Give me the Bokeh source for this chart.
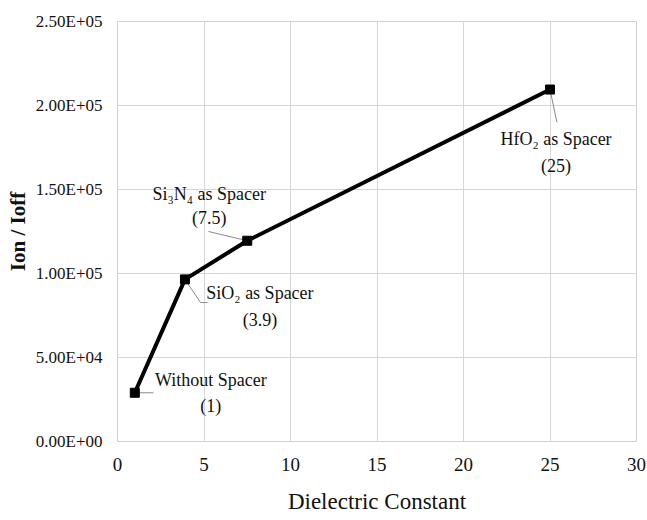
from bokeh.plotting import figure
from bokeh.models import FixedTicker, ColumnDataSource, Range1d
from bokeh.core.properties import value
from bokeh.embed import file_html
from bokeh.resources import INLINE

# Data
dielectric = [1, 3.9, 7.5, 25]
ion_ioff = [29000, 96500, 119500, 209500]
label_line1 = ["Without Spacer", "SiO\u2082 as Spacer", "Si\u2083N\u2084 as Spacer", "HfO\u2082 as Spacer"]
label_line2 = ["(1)", "(3.9)", "(7.5)", "(25)"]
y_ticks = [0, 50000, 100000, 150000, 200000, 250000]
y_tick_labels = ["0.00E+00", "5.00E+04", "1.00E+05", "1.50E+05", "2.00E+05", "2.50E+05"]
x_ticks = [0, 5, 10, 15, 20, 25, 30]

# leader line end points (annotation anchors, data units)
leader_xs = [[1, 2.08], [3.9, 4.8, 5.2], [7.5, 5.26], [25, 25.4]]
leader_ys = [[29000, 29000], [96500, 82700, 82700], [119500, 125000], [209500, 190000]]

# label pixel offsets relative to the points
off_x = [76, 75, -38, 6]
off_y1 = [-13, 14, -47, 49]
off_y2 = [13, 41, -23, 76]

FONT = "Liberation Serif"
TXT = "#111111"

p = figure(width=647, height=520, output_backend="svg", toolbar_location=None,
           x_range=Range1d(0, 30), y_range=Range1d(0, 250000),
           min_border_left=117, min_border_right=11, min_border_top=21, min_border_bottom=79)

p.outline_line_color = "#d0d0d0"
p.background_fill_color = "white"
p.border_fill_color = "white"

for ax in (p.xaxis[0], p.yaxis[0]):
    ax.axis_line_color = None
    ax.major_tick_line_color = None
    ax.minor_tick_line_color = None
    ax.major_tick_out = 0
    ax.major_tick_in = 0
    ax.minor_tick_out = 0
    ax.minor_tick_in = 0
    ax.major_label_text_font = FONT
    ax.major_label_text_color = TXT
    ax.axis_label_text_font = FONT
    ax.axis_label_text_color = TXT
    ax.axis_label_text_font_style = "normal"

p.xaxis.ticker = FixedTicker(ticks=x_ticks)
p.yaxis.ticker = FixedTicker(ticks=y_ticks)
p.yaxis.major_label_overrides = {t: l for t, l in zip(y_ticks, y_tick_labels)}
p.xaxis.major_label_text_font_size = "19px"
p.yaxis.major_label_text_font_size = "17px"
p.xaxis.major_label_standoff = 16
p.yaxis.major_label_standoff = 15
p.xaxis.axis_label = "Dielectric Constant"
p.xaxis.axis_label_text_font_size = "23px"
p.xaxis.axis_label_standoff = 15
p.yaxis.axis_label = "Ion / Ioff"
p.yaxis.axis_label_text_font_size = "21px"
p.yaxis.axis_label_text_font_style = "bold"
p.yaxis.axis_label_standoff = 3

p.xgrid.grid_line_color = "#d6d6d6"
p.ygrid.grid_line_color = "#d6d6d6"
p.xgrid.grid_line_width = 1
p.ygrid.grid_line_width = 1

# leader lines
p.multi_line(xs=leader_xs, ys=leader_ys, line_color="#8a8a8a", line_width=1)

src = ColumnDataSource(dict(x=dielectric, y=ion_ioff, l1=label_line1, l2=label_line2,
                            ox=off_x, oy1=off_y1, oy2=off_y2))

p.line("x", "y", source=src, line_color="black", line_width=4)
p.scatter("x", "y", source=src, marker="square", size=9, color="black")

p.text("x", "y", text="l1", source=src, x_offset="ox", y_offset="oy1",
       text_font=value(FONT), text_font_size="18px", text_color=TXT,
       text_align="center", text_baseline="middle")
p.text("x", "y", text="l2", source=src, x_offset="ox", y_offset="oy2",
       text_font=value(FONT), text_font_size="18px", text_color=TXT,
       text_align="center", text_baseline="middle")

open("out.html", "w").write(file_html(p, INLINE))
